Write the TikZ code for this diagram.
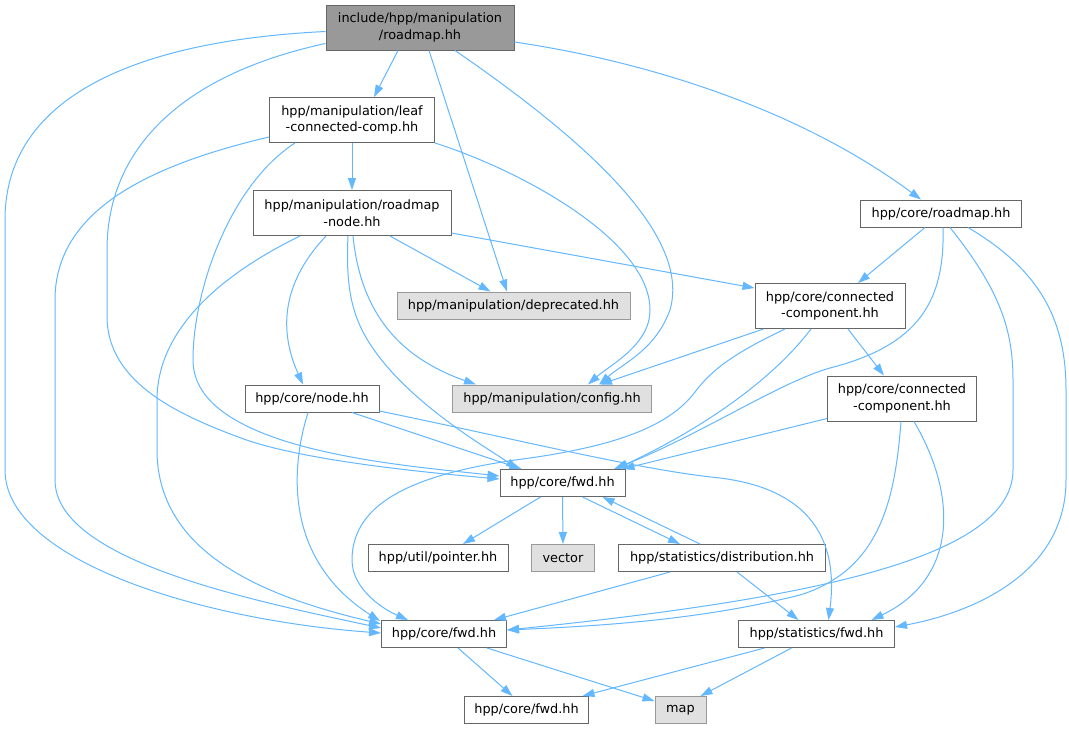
\documentclass[tikz,border=0pt]{standalone}
\usepackage{fontspec}
\setmainfont{DejaVu Sans}
\usetikzlibrary{arrows.meta,calc}
\definecolor{edgec}{HTML}{63B8FF}
\definecolor{bordc}{HTML}{666666}
\definecolor{rootf}{HTML}{999999}
\definecolor{extf}{HTML}{E0E0E0}
\definecolor{extb}{HTML}{999999}
\begin{document}
\begin{tikzpicture}[x=1pt,y=-1pt,
 nbox/.style={draw=bordc, fill=white, line width=1pt, inner sep=0pt, align=center,
   font=\fontsize{12.85}{16.5}\selectfont},
 rootbox/.style={nbox, fill=rootf},
 extbox/.style={nbox, draw=extb, fill=extf},
 e/.style={draw=edgec, line width=1pt, -{Triangle[length=12pt,width=8pt]}},
]
\fill[white] (0,0) rectangle (1069,729);
\useasboundingbox (0,0) rectangle (1069,729);

% nodes
\node[rootbox, minimum width=188pt, minimum height=45pt] (root) at (420,27.5) {include/hpp/manipulation\\/roadmap.hh};
\node[nbox, minimum width=165pt, minimum height=45pt] (leaf) at (352,120) {hpp/manipulation/leaf\\-connected-comp.hh};
\node[nbox, minimum width=198pt, minimum height=45pt] (rnode) at (352,213) {hpp/manipulation/roadmap\\-node.hh};
\node[extbox, minimum width=233pt, minimum height=27pt] (dep) at (513.5,305.5) {hpp/manipulation/deprecated.hh};
\node[nbox, minimum width=161pt, minimum height=27pt] (crm) at (941,213.5) {hpp/core/roadmap.hh};
\node[nbox, minimum width=150pt, minimum height=45pt] (cc1) at (830,306) {hpp/core/connected\\-component.hh};
\node[nbox, minimum width=134pt, minimum height=27pt] (cnode) at (312,398.5) {hpp/core/node.hh};
\node[extbox, minimum width=199pt, minimum height=27pt] (config) at (552,398.5) {hpp/manipulation/config.hh};
\node[nbox, minimum width=149pt, minimum height=45pt] (cc2) at (902,398.5) {hpp/core/connected\\-component.hh};
\node[nbox, minimum width=125pt, minimum height=27pt] (cf1) at (562.5,483) {hpp/core/fwd.hh};
\node[nbox, minimum width=140pt, minimum height=27pt] (ptr) at (438,558) {hpp/util/pointer.hh};
\node[extbox, minimum width=63pt, minimum height=27pt] (vec) at (563,558) {vector};
\node[nbox, minimum width=207pt, minimum height=27pt] (dist) at (722,558) {hpp/statistics/distribution.hh};
\node[nbox, minimum width=125pt, minimum height=27pt] (cf2) at (444,634) {hpp/core/fwd.hh};
\node[nbox, minimum width=156pt, minimum height=27pt] (sfwd) at (816.5,634) {hpp/statistics/fwd.hh};
\node[nbox, minimum width=124pt, minimum height=27pt] (cf3) at (526.5,710) {hpp/core/fwd.hh};
\node[extbox, minimum width=51pt, minimum height=27pt] (map) at (680.5,710) {map};

% edges from root
\draw[e] ($(root.south)+(-22,0)$) -- ($(leaf.north)+(22,0)$);
\draw[e] ($(root.south)+(9,0)$) -- ($(dep.north)+(-6.5,0)$);
\draw[e] ($(root.south)+(35,0)$) .. controls (600,150) and (690,240) .. (670,310)
   .. controls (655,350) and (625,362) .. ($(config.north)+(47,0)$);
\draw[e] ($(root.east)+(0,14.5)$) .. controls (650,62) and (800,110) .. ($(crm.north)+(-20,0)$);
\draw[e] ($(root.west)+(0,4)$) .. controls (150,40) and (5,90) .. (5,220) -- (5,470)
   .. controls (5,560) and (200,620) .. ($(cf2.west)+(0,-1)$);
\draw[e] ($(root.west)+(0,16)$) .. controls (180,75) and (107,150) .. (107,250) -- (107,320)
   .. controls (110,380) and (170,412) .. (241,438) .. controls (300,460) and (420,472) .. ($(cf1.west)+(0,-4)$);

% edges from leaf
\draw[e] (leaf.south) -- (rnode.north);
\draw[e] ($(leaf.west)+(0,17)$) .. controls (150,165) and (55,210) .. (55,300) -- (55,480)
   .. controls (55,560) and (250,600) .. ($(cf2.west)+(0,-6)$);
\draw[e] ($(leaf.south)+(-57,0)$) .. controls (230,185) and (193,290) .. (193,360)
   .. controls (193,450) and (400,465) .. ($(cf1.west)+(0,-7)$);
\draw[e] (leaf.south east) .. controls (520,170) and (650,240) .. (650,310)
   .. controls (650,345) and (610,365) .. ($(config.north)+(36,0)$);

% edges from roadmap-node
\draw[e] ($(rnode.south)+(38,0)$) -- ($(dep.north)+(-23,0)$);
\draw[e] ($(rnode.east)+(0,20)$) -- ($(cc1.west)+(0,-18)$);
\draw[e] ($(rnode.south)+(-52,0)$) .. controls (220,275) and (157,330) .. (157,400) -- (157,450)
   .. controls (157,560) and (280,600) .. ($(cf2.west)+(0,-10)$);
\draw[e] ($(rnode.south)+(-26,0)$) .. controls (275,290) and (283,340) .. ($(cnode.north)+(-9,0)$);
\draw[e] ($(rnode.south)+(-4,0)$) .. controls (345,300) and (355,330) .. (390,370)
   .. controls (430,415) and (490,450) .. ($(cf1.north)+(-44.5,0)$);
\draw[e] ($(rnode.south)+(1,0)$) .. controls (360,305) and (392,355) .. ($(config.north)+(-76,0)$);

% edges from core/node
\draw[e] ($(cnode.south)+(-4,0)$) .. controls (290,470) and (285,560) .. ($(cf2.north west)+(-1,1)$);
\draw[e] ($(cnode.south)+(40,0)$) -- ($(cf1.north)+(-41,0)$);
\draw[e] ($(cnode.east)+(0,12.5)$) .. controls (520,440) and (640,470) .. (720,478)
   .. controls (800,488) and (840,530) .. ($(sfwd.north)+(12,0)$);

% edges from core/roadmap
\draw[e] ($(crm.south)+(-16,0)$) -- ($(cc1.north)+(28,0)$);
\draw[e] ($(crm.south)+(2,0)$) .. controls (945,300) and (920,345) .. (830,368)
   .. controls (780,382) and (700,435) .. ($(cf1.north)+(51.5,0)$);
\draw[e] ($(crm.south)+(9,0)$) .. controls (1000,290) and (1013,330) .. (1013,380) -- (1013,470)
   .. controls (1013,560) and (800,600) .. ($(cf2.east)+(0,-4)$);
\draw[e] ($(crm.south)+(27,0)$) .. controls (1040,270) and (1066,320) .. (1066,390) -- (1066,480)
   .. controls (1066,580) and (960,615) .. ($(sfwd.east)+(0,-7)$);

% edges from connected-component (1)
\draw[e] ($(cc1.south west)+(9,0)$) -- ($(config.north)+(48,0)$);
\draw[e] ($(cc1.south)+(18,0)$) -- ($(cc2.north)+(-18,0)$);
\draw[e] ($(cc1.south)+(-45,0)$) .. controls (730,355) and (710,372) .. (695,392)
   .. controls (670,425) and (620,445) .. (530,458)
   .. controls (420,472) and (352,500) .. (352,560)
   .. controls (352,590) and (385,610) .. ($(cf2.north)+(-36,0)$);
\draw[e] ($(cc1.south)+(-19,0)$) .. controls (780,370) and (720,420) .. ($(cf1.north)+(53.5,0)$);

% edges from connected-component (2)
\draw[e] ($(cc2.west)+(0,20)$) -- ($(cf1.north east)+(-3,0)$);
\draw[e] ($(cc2.south)+(-1,0)$) .. controls (895,500) and (880,570) .. (800,595)
   .. controls (700,620) and (600,626) .. ($(cf2.east)+(0,-4)$);
\draw[e] ($(cc2.south)+(12,0)$) .. controls (960,500) and (955,580) .. ($(sfwd.north)+(55,0)$);

% edges from core/fwd (middle)
\draw[e] ($(cf1.south)+(-22,0)$) -- ($(ptr.north)+(25,0)$);
\draw[e] (cf1.south) -- (vec.north);
\draw[e] ($(cf1.south)+(20,0)$) -- ($(dist.north)+(-42,0)$);

% edges from distribution
\draw[e] ($(dist.north)+(-22,0)$) -- ($(cf1.south)+(40,0)$);
\draw[e] ($(dist.south)+(-52,0)$) -- ($(cf2.north)+(50,0)$);
\draw[e] ($(dist.south)+(15,0)$) -- ($(sfwd.north)+(-18,0)$);

% bottom edges
\draw[e] ($(cf2.south)+(14,0)$) -- ($(cf3.north)+(-14,0)$);
\draw[e] ($(cf2.south)+(43,0)$) -- ($(map.west)+(0,-9)$);
\draw[e] ($(sfwd.south)+(-52,0)$) -- ($(cf3.north)+(56,0)$);
\draw[e] ($(sfwd.south)+(-25,0)$) -- ($(map.north)+(20,0)$);
\end{tikzpicture}
\end{document}
